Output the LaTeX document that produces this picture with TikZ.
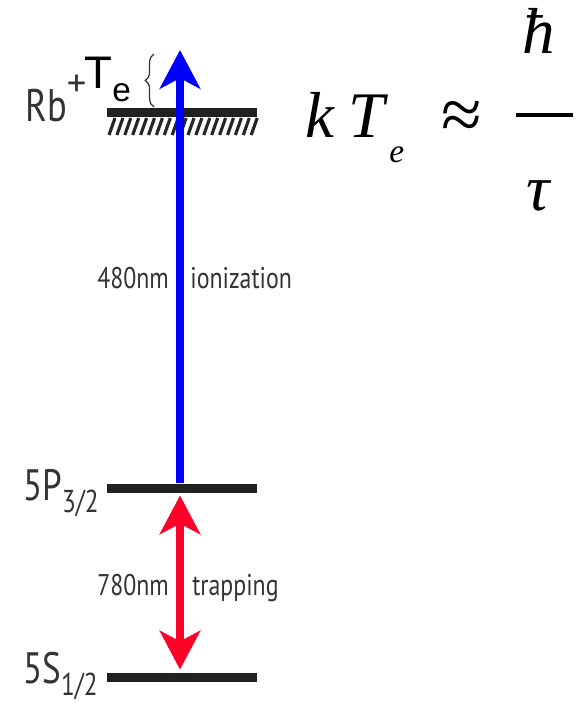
\documentclass[tikz,border=0pt]{standalone}
\usepackage{fontspec}
\setsansfont{PT Sans}
\newfontfamily\formfont{Liberation Serif}
\newfontfamily\arialfont{Liberation Sans}
\usetikzlibrary{arrows.meta,decorations.pathreplacing}
\definecolor{labelgray}{RGB}{51,51,51}
\definecolor{ionblue}{RGB}{0,0,255}
\definecolor{trapred}{RGB}{255,0,40}
\newcommand{\fsz}[1]{\fontsize{#1}{#1}\selectfont}
\newcommand{\narrow}[1]{\scalebox{0.8}[1]{#1}}
\newcommand{\statelab}[2]{\narrow{#1\raisebox{-7pt}{\fsz{18pt}#2}}}

\begin{document}
\begin{tikzpicture}[x=0.02cm, y=-0.02cm,
    level/.style={rectangle, fill=black!87, inner sep=0pt, minimum width=3.02cm, minimum height=0.18cm},
    lab/.style={anchor=base west, inner sep=0pt, text=labelgray, font=\sffamily\fsz{17pt}},
    statename/.style={anchor=base west, inner sep=0pt, text=labelgray, font=\sffamily\fsz{25pt}},
    formula/.style={inner sep=0pt, font=\formfont\itshape\fsz{37pt}},
    beam/.style={line width=5pt}
]
\useasboundingbox (0,0) rectangle (585,704);

% energy levels
\node[level] (ion) at (182,112) {};
\node[level] (p32) at (182,488) {};
\node[level] (s12) at (182,677) {};
\foreach \i in {0,...,18}
  \draw[line width=1.8pt, black!85] (109+7.9*\i,135) -- (115+7.9*\i,118);

% level names
\node[statename, font=\sffamily\fsz{26pt}] (rb) at (25,121) {\narrow{Rb}\raisebox{14pt}{\fsz{22pt}+}};
\node[anchor=base west, inner sep=0pt, font=\arialfont\fsz{26pt}] (te) at (84,88) {T\raisebox{-0.3em}{\fsz{19pt}e}};
\node[statename] (p32lab) at (23,500) {\statelab{5P}{3/2}};
\node[statename] (s12lab) at (23,683) {\statelab{5S}{1/2}};
\draw[decorate, decoration={brace, amplitude=5pt}, line width=0.7pt, black!80] (154,107) -- (154,54);

% transitions
\coordinate (top) at (180,50);
\draw[beam, ionblue, -{Stealth[length=22pt, width=23pt, inset=6pt]}] (p32.north -| top) -- (top);
\draw[beam, trapred, {Stealth[length=22pt, width=23pt, inset=6pt]}-{Stealth[length=22pt, width=23pt, inset=6pt]},
      shorten <=1.5pt, shorten >=1.5pt] (p32.south -| top) -- (s12.north -| top);
\node[lab] (l480) at (97,288) {\narrow{480nm}};
\node[lab] (lion) at (190,288) {\narrow{ionization}};
\node[lab] (l780) at (97,595) {\narrow{780nm}};
\node[lab] (ltrap) at (192,595) {\narrow{trapping}};

% electron temperature
\node[formula, anchor=base west] (k) at (305,137) {k};
\node[formula, anchor=base west] (T) at (348,137) {T};
\node[formula, anchor=base west, font=\formfont\itshape\fsz{19pt}] (e) at (389,162) {e};
\node[formula, font=\formfont\fsz{42pt}] (approx) at (462,120) {≈};
\draw[line width=2.2pt] (516,115) -- (573,115);
\node[formula, anchor=base] (hbar) at (539,53) {ħ};
\node[formula, anchor=base] (tau) at (538,210) {τ};
\end{tikzpicture}
\end{document}
